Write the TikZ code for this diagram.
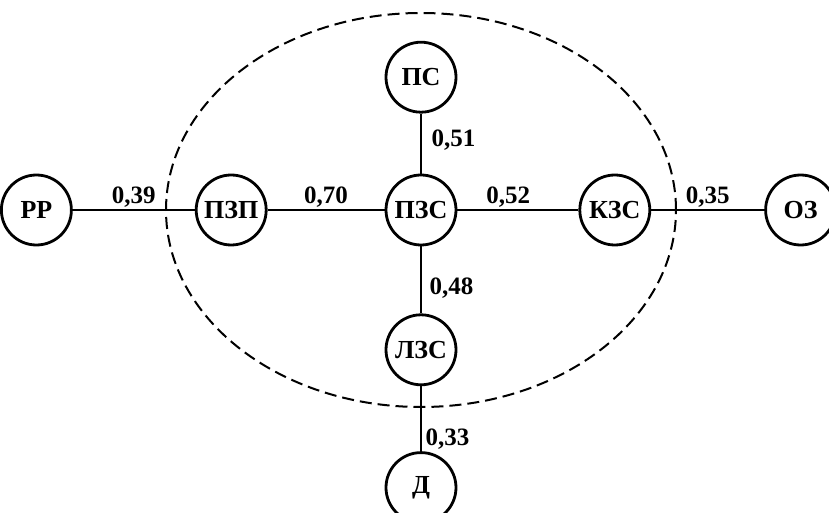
\documentclass[tikz,border=0pt]{standalone}
\usepackage{fontspec}
\setmainfont{Liberation Serif}
\usetikzlibrary{positioning}

\begin{document}
\begin{tikzpicture}[
    node distance=30pt,
    state/.style={circle, draw, line width=1.4pt, minimum size=35pt, inner sep=0pt,
                  fill=white, font=\fontsize{13}{15}\selectfont\bfseries},
    link/.style={line width=1.1pt},
    weight/.style={font=\fontsize{12.5}{14}\selectfont\bfseries, inner sep=0.8pt},
    zone/.style={dashed, line width=1pt, dash pattern=on 6pt off 3pt}
]
\useasboundingbox (-210.5pt,-151.5pt) rectangle (204pt,105pt);

% Central node
\node[state] (pzs) at (0,0) {ПЗС};

% Horizontal chain
\node[state, left=58.5pt of pzs] (pzp) {ПЗП};
\node[state, left=61pt of pzp] (rr) {РР};
\node[state, right=60.5pt of pzs] (kzs) {КЗС};
\node[state, right=56.5pt of kzs] (oz) {ОЗ};

% Vertical chain
\node[state, above=30pt of pzs] (ps) {ПС};
\node[state, below=33.5pt of pzs] (lzs) {ЛЗС};
\node[state, below=32.5pt of lzs] (d) {Д};

% Zone boundary
\draw[zone] (pzs) ellipse [x radius=127.5pt, y radius=98.5pt];

% Links with weights
\draw[link] (rr) -- (pzp) node[weight, midway, above] {0,39};
\draw[link] (pzp) -- (pzs) node[weight, midway, above] {0,70};
\draw[link] (pzs) -- (kzs) node[weight, pos=0.42, above] {0,52};
\draw[link] (kzs) -- (oz) node[weight, midway, above] {0,35};
\draw[link] (ps) -- (pzs) node[weight, pos=0.45, right=4pt] {0,51};
\draw[link] (pzs) -- (lzs) node[weight, pos=0.63, right=3pt] {0,48};
\draw[link] (lzs) -- (d) node[weight, pos=0.82, right=1pt] {0,33};

\end{tikzpicture}
\end{document}
